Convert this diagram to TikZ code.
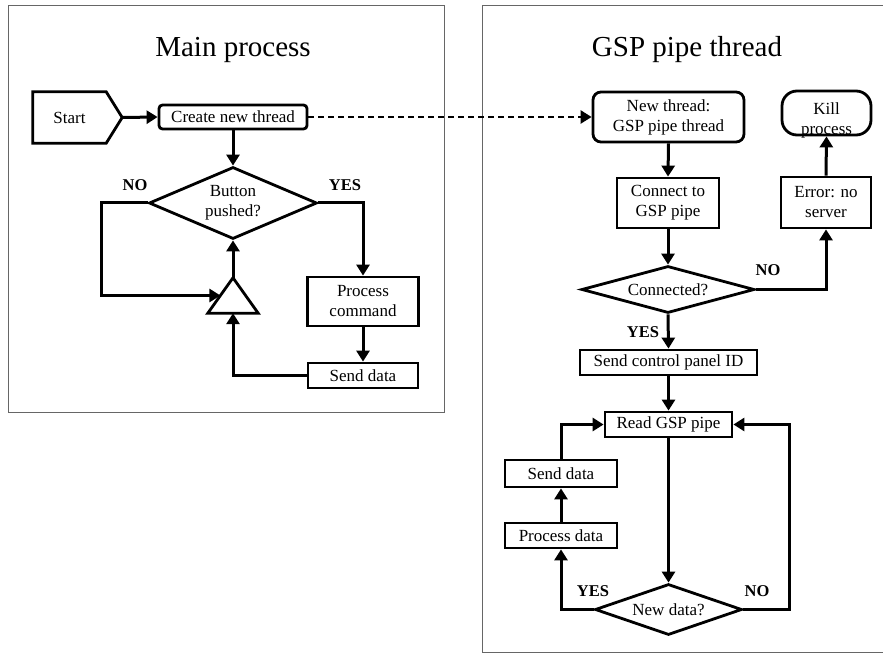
\documentclass[tikz,border=0pt]{standalone}
\usepackage{fontspec}
\setmainfont{Liberation Serif}
\usetikzlibrary{arrows.meta,shapes.geometric,calc}

\tikzset{
  box/.style={draw, line width=2.8pt, inner sep=0pt, align=center,
    font=\fontsize{17}{20}\selectfont},
  rbox/.style={box, rounded corners=#1},
  decision/.style={box, diamond, aspect=#1},
  plain/.style={inner sep=0pt, align=center, font=\fontsize{17}{20}\selectfont},
  answer/.style={inner sep=0pt, font=\fontsize{16.5}{18}\selectfont\bfseries},
  heading/.style={inner sep=0pt, font=\fontsize{29}{32}\selectfont},
  flow/.style={line width=3pt, -{Triangle[length=11pt,width=13pt]}},
  spawn/.style={line width=2.4pt, dash pattern=on 6pt off 4pt,
    -{Triangle[length=11pt,width=13pt]}},
  panel/.style={draw=black!60, line width=1pt},
}

\begin{document}
\begin{tikzpicture}[x=1pt,y=-1pt]
\useasboundingbox (0,0) rectangle (883,655);

% panel frames
\draw[panel] (8,6) rectangle (444,412);
\draw[panel] (883,6) -- (482,6) -- (482,652) -- (883,652);

% ---------------- main process ----------------
\node[heading] (title1) at (233,50) {Main process};

\node[plain, minimum width=73pt, minimum height=51pt] (start) at (69.5,117.5) {Start};
\draw[line width=2.8pt, line join=miter]
  (start.north west) -- (start.north east) -- ([xshift=16pt]start.east) coordinate (starttip)
  -- (start.south east) -- (start.south west) -- cycle;

\node[rbox=3.5pt, minimum width=148pt, minimum height=24pt] (create) at (233,117) {Create new thread};
\node[decision=2.33, minimum width=168pt, minimum height=72pt] (button) at (233,203) {Button\\pushed?};
\node[inner sep=0pt, minimum width=50pt, minimum height=35pt] (merge) at (233,295.5) {};
\draw[line width=2.8pt, line join=miter] (merge.south west) -- (merge.north) -- (merge.south east) -- cycle;
\coordinate (mergeL) at ($(merge.south west)!0.5!(merge.north)$);
\node[box, minimum width=111pt, minimum height=49pt] (proc) at (363,301.5) {Process\\command};
\node[box, minimum width=110pt, minimum height=25pt] (send1) at (363,375.5) {Send data};

\node[answer] (no1) at (135,185) {NO};
\node[answer] (yes1) at (345,185) {YES};

\draw[flow] (starttip) -- (create.west);
\draw[flow] (create.south) -- (button.north);
\draw[flow] (button.west) -- ++(-46pt,0) |- (mergeL);
\draw[flow] (merge.north) -- (button.south);
\draw[flow] (button.east) -| (proc.north);
\draw[flow] (proc.south) -- (send1.north);
\draw[flow] (send1.west) -| (merge.south);

% ---------------- GSP pipe thread ----------------
\node[heading] (title2) at (687,50) {GSP pipe thread};

\node[rbox=8pt, minimum width=151pt, minimum height=50pt] (newt) at (668.5,117) {New thread:\\GSP pipe thread};
\node[rbox=15pt, minimum width=89pt, minimum height=44pt] (kill) at (826.5,113) {};
\node[plain] (killtext) at (826.5,120) {Kill\\process};
\node[box, minimum width=102pt, minimum height=50pt] (connect) at (668,203) {Connect to\\GSP pipe};
\node[box, minimum width=90pt, minimum height=51pt] (error) at (826,202.5) {Error: no\\server};
\node[decision=3.68, minimum width=173pt, minimum height=47pt] (conn) at (668,289.5) {Connected?};
\node[box, minimum width=177pt, minimum height=25pt] (sendid) at (668.5,362.5) {Send control panel ID};
\node[box, minimum width=127pt, minimum height=25pt] (read) at (668.5,424.5) {Read GSP pipe};
\node[decision=2.88, minimum width=147pt, minimum height=51pt] (newd) at (668.5,609.5) {New data?};
\node[box, minimum width=112pt, minimum height=25pt] (procd) at (561,535.5) {Process data};
\node[box, minimum width=112pt, minimum height=27pt] (sendd) at (561,473.5) {Send data};

\node[answer] (no2) at (768,270) {NO};
\node[answer] (yes2) at (643,332) {YES};
\node[answer] (yes3) at (593,591) {YES};
\node[answer] (no3) at (757,591) {NO};

\draw[spawn] (create.east) -- (newt.west);
\draw[flow] (newt.south) -- (connect.north);
\draw[flow] (connect.south) -- (conn.north);
\draw[flow] (conn.east) -| (error.south);
\draw[flow] (error.north) -- (kill.south);
\draw[flow] (conn.south) -- (sendid.north);
\draw[flow] (sendid.south) -- (read.north);
\draw[flow] (read.south) -- (newd.north);
\draw[flow] (newd.east) -- ++(46pt,0) |- (read.east);
\draw[flow] (newd.west) -| (procd.south);
\draw[flow] (procd.north) -- (sendd.south);
\draw[flow] (sendd.north) |- (read.west);
\end{tikzpicture}
\end{document}
